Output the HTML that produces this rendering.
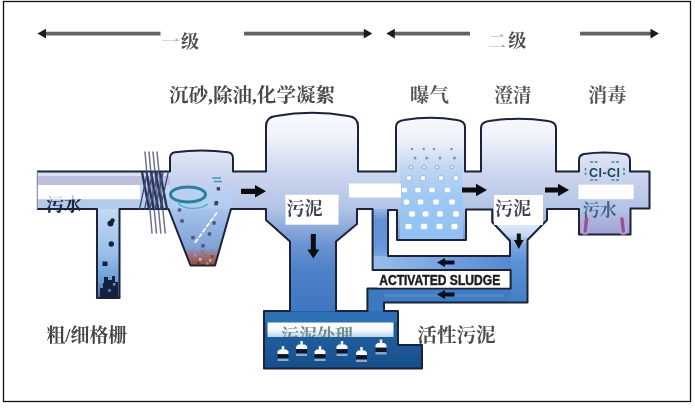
<!DOCTYPE html>
<html lang="zh">
<head>
<meta charset="utf-8">
<title>污水处理流程</title>
<style>
html,body{margin:0;padding:0;background:#fff;}
body{width:695px;height:409px;overflow:hidden;font-family:"Liberation Sans",sans-serif;}
svg{display:block;}
.ol{fill:none;stroke:#1b2238;stroke-width:2;stroke-linejoin:round;}
.cj{font-family:"Liberation Serif","Noto Serif CJK SC",serif;font-weight:bold;}
</style>
</head>
<body>
<svg width="695" height="409" viewBox="0 0 695 409">
<defs>
<filter id="soft" x="0" y="0" width="695" height="409" filterUnits="userSpaceOnUse"><feGaussianBlur stdDeviation="0.45"/></filter>
<linearGradient id="vg" gradientUnits="userSpaceOnUse" x1="0" y1="112" x2="0" y2="312">
<stop offset="0" stop-color="#fbfbfe"/>
<stop offset="0.14" stop-color="#eef0fa"/>
<stop offset="0.30" stop-color="#ced7ef"/>
<stop offset="0.485" stop-color="#b1c3e6"/>
<stop offset="0.565" stop-color="#93aedd"/>
<stop offset="0.665" stop-color="#6b93d2"/>
<stop offset="0.79" stop-color="#4e81c7"/>
<stop offset="1" stop-color="#3f76c0"/>
</linearGradient>
<linearGradient id="boxg" x1="0" y1="0" x2="0" y2="1">
<stop offset="0" stop-color="#21629f"/>
<stop offset="0.6" stop-color="#1c5a98"/>
<stop offset="1" stop-color="#174e8a"/>
</linearGradient>
<linearGradient id="pipeg" gradientUnits="userSpaceOnUse" x1="0" y1="209" x2="0" y2="298">
<stop offset="0" stop-color="#c2daf4"/>
<stop offset="0.5" stop-color="#9abfe9"/>
<stop offset="0.8" stop-color="#6d9dd8"/>
<stop offset="1" stop-color="#4572b4"/>
</linearGradient>
<linearGradient id="bubg" gradientUnits="userSpaceOnUse" x1="0" y1="143" x2="0" y2="239">
<stop offset="0" stop-color="#dfe6f6" stop-opacity="0"/>
<stop offset="0.28" stop-color="#bcd4f2" stop-opacity="0.9"/>
<stop offset="0.55" stop-color="#9ecaf4"/>
<stop offset="1" stop-color="#8fc0f2"/>
</linearGradient>
<linearGradient id="uvg" gradientUnits="userSpaceOnUse" x1="0" y1="209" x2="0" y2="234">
<stop offset="0" stop-color="#b4c4e8"/>
<stop offset="1" stop-color="#a39fd4"/>
</linearGradient>
<linearGradient id="wbg" x1="0" y1="0" x2="0" y2="1">
<stop offset="0" stop-color="#ffffff"/>
<stop offset="0.55" stop-color="#f4f8fd"/>
<stop offset="1" stop-color="#b9d3ef"/>
</linearGradient>
<linearGradient id="rpv" gradientUnits="userSpaceOnUse" x1="0" y1="209" x2="0" y2="270">
<stop offset="0" stop-color="#9db6e2"/>
<stop offset="0.18" stop-color="#6291d6"/>
<stop offset="0.6" stop-color="#6496d8"/>
<stop offset="1" stop-color="#93b9e8"/>
</linearGradient>
<linearGradient id="rph" gradientUnits="userSpaceOnUse" x1="372" y1="0" x2="510" y2="0">
<stop offset="0" stop-color="#98bdea"/>
<stop offset="0.5" stop-color="#76a4e0"/>
<stop offset="1" stop-color="#5688d0"/>
</linearGradient>
<linearGradient id="vcg" gradientUnits="userSpaceOnUse" x1="0" y1="241" x2="0" y2="302">
<stop offset="0" stop-color="#86ade2"/>
<stop offset="0.35" stop-color="#5a92d6"/>
<stop offset="1" stop-color="#437fc7"/>
</linearGradient>
<linearGradient id="gcg" gradientUnits="userSpaceOnUse" x1="0" y1="184" x2="0" y2="209">
<stop offset="0" stop-color="#bcd3f1" stop-opacity="0"/>
<stop offset="0.4" stop-color="#b8d2f3" stop-opacity="0.85"/>
<stop offset="1" stop-color="#b0cdf1"/>
</linearGradient>
<linearGradient id="wdg" gradientUnits="userSpaceOnUse" x1="0" y1="222" x2="0" y2="244">
<stop offset="0" stop-color="#e4edf9"/>
<stop offset="0.6" stop-color="#c6d9f2"/>
<stop offset="1" stop-color="#8fb2e2" stop-opacity="0.6"/>
</linearGradient>
<linearGradient id="coneg" gradientUnits="userSpaceOnUse" x1="0" y1="209" x2="0" y2="266">
<stop offset="0" stop-color="#a8c3ea"/>
<stop offset="0.68" stop-color="#7fa2d6"/>
<stop offset="0.8" stop-color="#907a8e"/>
<stop offset="1" stop-color="#9a4632"/>
</linearGradient>
</defs>
<rect x="3.5" y="1.5" width="687" height="400" fill="#fff" stroke="#111" stroke-width="1.3"/>
<g filter="url(#soft)">
<path d="M37,171.5 H170 V158 Q170,153 175,152.2 Q201.5,149 228,152.2 Q233,153 233,158 V171.5 H266 V126 Q266,117 276,116 Q312,109.5 348,116 Q358,117 358,126 V171.5 H396 V127 Q396,121 404,120 Q430.5,115.5 457,120 Q465,121 465,127 V171.5 H481 V128 Q481,122 489,121 Q518.5,116.5 548,121 Q556,122 556,128 V171.5 H579 V160 Q579,155 584,154 Q604.5,151 625,154 Q630,155 630,160 V171.5 H649.5 V208.5 H630.5 V234.5 H579 V209 H547 V220 L527.5,240 V302.5 H384 V311 H398 V345 H422 V368.5 H264 V311 H290 V241.5 L266,220 V209 H231 L215,265.5 H190.5 L168.5,209 H119.5 V298 H97 V209 H37 Z M357,209 H372.6 V270 H510.6 V288.6 H367.4 V311 H336 V241.5 L357,224 Z M388,210 H397 V240 H466 V209.6 H492.2 V222 L510,241 V256 H388 Z" fill="url(#vg)" fill-rule="evenodd"/>
<rect x="37" y="172" width="133" height="5" fill="#dcdff0"/>
<rect x="37" y="176" width="133" height="9" fill="#bcc0de"/>
<rect x="37" y="185" width="103" height="14.5" fill="#ffffff"/>
<rect x="37" y="199.5" width="133" height="9.5" fill="#b4cae9"/>
<rect x="140" y="185" width="30" height="14.5" fill="#c9d6ee"/>
<rect x="171" y="184" width="61" height="25" fill="url(#gcg)"/>
<rect x="97" y="209" width="22.5" height="89" fill="url(#pipeg)"/>
<g fill="#12203c"><circle cx="110.5" cy="223.5" r="3"/><circle cx="112.5" cy="220.5" r="2.2"/><circle cx="111.3" cy="244" r="2.7"/><rect x="102.5" y="261.5" width="5" height="4.5"/><path d="M104,277 h4 v3 h4 v-4 h3 v6 h3 v15 h-18 v-9 h3 v-5 h1 z"/><rect x="100" y="284" width="3" height="3" fill="#5a88c0"/><rect x="108" y="289" width="3" height="3" fill="#4a78b0"/><rect x="113" y="283" width="2.5" height="2.5" fill="#6a98d0"/></g>
<path d="M168.5,209 H231 L215,265.5 H190.5 Z" fill="url(#coneg)"/>
<path d="M264,311 H398 V345 H422 V368.5 H264 Z" fill="url(#boxg)"/>
<rect x="264" y="312" width="134" height="10.5" fill="#2f6fb6"/>
<rect x="372.6" y="209" width="15.4" height="61" fill="url(#rpv)"/>
<rect x="372.6" y="256" width="138" height="14" fill="url(#rph)"/>
<rect x="367.4" y="288.6" width="143.2" height="14" fill="#3f7cc4"/>
<rect x="367.4" y="288.6" width="16.6" height="23" fill="#3c79c1"/>
<rect x="384" y="294" width="120" height="3" fill="#5b93d6" opacity="0.6"/>
<rect x="510.6" y="241" width="17" height="61.5" fill="url(#vcg)"/>
<rect x="400" y="143" width="63" height="96.5" fill="url(#bubg)"/>
<rect x="579" y="209" width="51.5" height="25.5" fill="url(#uvg)"/>
<path d="M493,222 H546 L527,240 V244 H511 V240 Z" fill="url(#wdg)"/>
<path class="ol" d="M37,171.5 H170 V158 Q170,153 175,152.2 Q201.5,149 228,152.2 Q233,153 233,158 V171.5 H266 V126 Q266,117 276,116 Q312,109.5 348,116 Q358,117 358,126 V171.5 H396 V127 Q396,121 404,120 Q430.5,115.5 457,120 Q465,121 465,127 V171.5 H481 V128 Q481,122 489,121 Q518.5,116.5 548,121 Q556,122 556,128 V171.5 H579 V160 Q579,155 584,154 Q604.5,151 625,154 Q630,155 630,160 V171.5 H649.5 V208.5 H630.5 V234.5 H579 V209 H547 V220 L527.5,240 V302.5 H384 V311 H398 V345 H422 V368.5 H264 V311 H290 V241.5 L266,220 V209 H231 L215,265.5 H190.5 L168.5,209 H119.5 V298 H97 V209 H37"/>
<path d="M37.3,171.5 V209" stroke="#7f8698" stroke-width="1.1" fill="none"/>
<path class="ol" d="M357,209 H372.6 V270 H510.6 V288.6 H367.4 V311 H336 V241.5 L357,224 Z"/>
<path class="ol" d="M388,210 H397 V240 H466 V209.6 H492.2 V222 L510,241 V256 H388 Z"/>
<rect x="349" y="183.5" width="52" height="14" fill="#fff"/>
<rect x="285.5" y="194.7" width="53" height="30" fill="#fff"/>
<rect x="494" y="195" width="49" height="30" fill="#fff"/>
<rect x="578.4" y="184.6" width="55.2" height="14.6" fill="#fff"/>
<rect x="377.5" y="272" width="131.5" height="15.5" fill="#fff"/>
<rect x="267.5" y="322.5" width="126" height="14.5" fill="url(#wbg)"/>
<g fill="none" stroke-linecap="round"><path d="M145,152 L152,233" stroke="#6a728e" stroke-width="1.5"/><path d="M149,152 L156.4,233" stroke="#6a728e" stroke-width="1.5"/><path d="M153,152 L160.8,233" stroke="#6a728e" stroke-width="1.5"/><path d="M157,152 L165.2,233" stroke="#6a728e" stroke-width="1.5"/><path d="M142,172 L149,209" stroke="#26345c" stroke-width="2.3"/><path d="M146.5,172 L153.5,209" stroke="#26345c" stroke-width="2.3"/><path d="M151,172 L158,209" stroke="#26345c" stroke-width="2.3"/><path d="M155.5,172 L162.5,209" stroke="#26345c" stroke-width="2.3"/><path d="M160,172 L167,209" stroke="#26345c" stroke-width="2.3"/><path d="M139.5,209 L147.5,172" stroke="#3a4a78" stroke-width="1.3"/><path d="M144.7,209 L152.7,172" stroke="#3a4a78" stroke-width="1.3"/><path d="M149.9,209 L157.9,172" stroke="#3a4a78" stroke-width="1.3"/><path d="M155.1,209 L163.1,172" stroke="#3a4a78" stroke-width="1.3"/><path d="M160.3,209 L168.3,172" stroke="#3a4a78" stroke-width="1.3"/></g>
<ellipse cx="188" cy="194.5" rx="17.5" ry="7.5" fill="none" stroke="#2b819f" stroke-width="3"/>
<path d="M178,203 C184,210 200,210 208,204" fill="none" stroke="#4ab0d0" stroke-width="1.2"/>
<path d="M212,178 h9 M214,181.5 h8" stroke="#3a9ab8" stroke-width="1.4" fill="none"/>
<path d="M217,212.5 L194.5,243.5" stroke="#fff" stroke-width="1.8" stroke-dasharray="5 1.5" opacity="0.9"/>
<g><rect x="216.7" y="187.1" width="3.4" height="3.4" fill="#4a3a6a"/><rect x="214.8" y="201" width="3.4" height="3.4" fill="#3a4468"/><rect x="177.8" y="208.3" width="3.4" height="3.4" fill="#55608a"/><rect x="180.3" y="219.3" width="3.4" height="3.4" fill="#4a5578"/><rect x="212.3" y="221.3" width="3.4" height="3.4" fill="#4a5578"/><rect x="207.8" y="232.3" width="3.4" height="3.4" fill="#4a5a80"/><rect x="191.3" y="235.9" width="3.4" height="3.4" fill="#4a5a80"/><rect x="201.3" y="244.1" width="3.4" height="3.4" fill="#4a5a80"/><rect x="214.3" y="202" width="3.4" height="3.4" fill="#3a4468"/></g>
<g><rect x="194" y="254" width="2.6" height="2.6" fill="#c98a7a"/><rect x="199" y="258" width="2.6" height="2.6" fill="#e0b0a0"/><rect x="204" y="253" width="2.6" height="2.6" fill="#b06a5a"/><rect x="209" y="259" width="2.6" height="2.6" fill="#d8a090"/><rect x="197" y="262" width="2.6" height="2.6" fill="#7a3020"/><rect x="206" y="262" width="2.6" height="2.6" fill="#c87860"/><rect x="211" y="255" width="2.6" height="2.6" fill="#8a4030"/><rect x="201" y="250.5" width="2.6" height="2.6" fill="#a06a70"/></g>
<g><circle cx="412" cy="149" r="1.3" fill="#7f96c4" stroke="none" stroke-width="0.8"/><circle cx="423.7" cy="149" r="1.3" fill="#7f96c4" stroke="none" stroke-width="0.8"/><circle cx="434" cy="149" r="1.3" fill="#7f96c4" stroke="none" stroke-width="0.8"/><circle cx="451.6" cy="149" r="1.3" fill="#7f96c4" stroke="none" stroke-width="0.8"/><circle cx="415" cy="158" r="1.5" fill="#7f96c4" stroke="none" stroke-width="0.8"/><circle cx="426.7" cy="158" r="1.5" fill="#7f96c4" stroke="none" stroke-width="0.8"/><circle cx="440" cy="158" r="1.5" fill="#7f96c4" stroke="none" stroke-width="0.8"/><circle cx="454.5" cy="158" r="1.5" fill="#7f96c4" stroke="none" stroke-width="0.8"/><circle cx="411" cy="167" r="2" fill="#dfeaf9" stroke="#8aa2cc" stroke-width="0.8"/><circle cx="424" cy="167" r="2" fill="#dfeaf9" stroke="#8aa2cc" stroke-width="0.8"/><circle cx="437" cy="167" r="2" fill="#dfeaf9" stroke="#8aa2cc" stroke-width="0.8"/><circle cx="452" cy="167" r="2" fill="#dfeaf9" stroke="#8aa2cc" stroke-width="0.8"/><rect x="406.3" y="175.57" width="5.4" height="4.86" rx="1.485" fill="#f2f7fd" stroke="#9ab4dc" stroke-width="0.8"/><rect x="420.3" y="175.57" width="5.4" height="4.86" rx="1.485" fill="#f2f7fd" stroke="#9ab4dc" stroke-width="0.8"/><rect x="438.3" y="175.57" width="5.4" height="4.86" rx="1.485" fill="#f2f7fd" stroke="#9ab4dc" stroke-width="0.8"/><rect x="453.3" y="175.57" width="5.4" height="4.86" rx="1.485" fill="#f2f7fd" stroke="#9ab4dc" stroke-width="0.8"/><rect x="401.4" y="187.21" width="6.2" height="5.58" rx="1.705" fill="#ffffff" stroke="#a4c2ea" stroke-width="0.8"/><rect x="414.9" y="187.21" width="6.2" height="5.58" rx="1.705" fill="#ffffff" stroke="#a4c2ea" stroke-width="0.8"/><rect x="428.9" y="187.21" width="6.2" height="5.58" rx="1.705" fill="#ffffff" stroke="#a4c2ea" stroke-width="0.8"/><rect x="444.4" y="187.21" width="6.2" height="5.58" rx="1.705" fill="#ffffff" stroke="#a4c2ea" stroke-width="0.8"/><rect x="403.3" y="199.12" width="6.4" height="5.76" rx="1.76" fill="#ffffff" stroke="#a4c2ea" stroke-width="0.8"/><rect x="417.3" y="199.12" width="6.4" height="5.76" rx="1.76" fill="#ffffff" stroke="#a4c2ea" stroke-width="0.8"/><rect x="432.8" y="199.12" width="6.4" height="5.76" rx="1.76" fill="#ffffff" stroke="#a4c2ea" stroke-width="0.8"/><rect x="448.8" y="199.12" width="6.4" height="5.76" rx="1.76" fill="#ffffff" stroke="#a4c2ea" stroke-width="0.8"/><rect x="408.7" y="211.03" width="6.6" height="5.94" rx="1.815" fill="#ffffff" stroke="#a4c2ea" stroke-width="0.8"/><rect x="422.2" y="211.03" width="6.6" height="5.94" rx="1.815" fill="#ffffff" stroke="#a4c2ea" stroke-width="0.8"/><rect x="436.7" y="211.03" width="6.6" height="5.94" rx="1.815" fill="#ffffff" stroke="#a4c2ea" stroke-width="0.8"/><rect x="452.7" y="211.03" width="6.6" height="5.94" rx="1.815" fill="#ffffff" stroke="#a4c2ea" stroke-width="0.8"/><rect x="405.1" y="223.44" width="6.8" height="6.12" rx="1.87" fill="#ffffff" stroke="#a4c2ea" stroke-width="0.8"/><rect x="420.6" y="223.44" width="6.8" height="6.12" rx="1.87" fill="#ffffff" stroke="#a4c2ea" stroke-width="0.8"/><rect x="436.1" y="223.44" width="6.8" height="6.12" rx="1.87" fill="#ffffff" stroke="#a4c2ea" stroke-width="0.8"/><rect x="451.1" y="223.44" width="6.8" height="6.12" rx="1.87" fill="#ffffff" stroke="#a4c2ea" stroke-width="0.8"/></g>
<text x="589" y="176.6" font-family="Liberation Sans, sans-serif" font-weight="bold" font-size="12.5" fill="#1c4556" textLength="31" lengthAdjust="spacing">Cl-Cl</text>
<g stroke="#3a8a8a" stroke-width="1.5" fill="none"><path d="M590,162 h3 M594.5,162 h3 M611.5,162 h3 M616,162 h3 M590,180 h3 M594.5,180 h3 M611.5,180 h3 M616,180 h3"/><path d="M585.5,168 v2.5 M585.5,172.5 v2.5 M624,168 v2.5 M624,172.5 v2.5"/></g>
<g fill="none" stroke-linecap="round"><path d="M586.5,219 L585,231" stroke="#c6a6d6" stroke-width="8" opacity="0.7"/><path d="M586.5,219 L585.2,231" stroke="#89589c" stroke-width="3.4"/><path d="M622,219 L623.5,231" stroke="#c6a6d6" stroke-width="8" opacity="0.7"/><path d="M622,219 L623.3,231" stroke="#89589c" stroke-width="3.4"/></g>
<g><rect x="281.7" y="346" width="2.6" height="4.5" fill="#e8f0fa"/><path d="M279.5,349.6 h7 l2,2 v2.6 h-11 v-2.6 z" fill="#f4f8fd"/><rect x="277.5" y="354.2" width="11" height="4.4" fill="#0c1220"/><rect x="277.5" y="358.6" width="11" height="2.4" fill="#8fa9cc"/><rect x="300.3" y="341" width="2.6" height="4.5" fill="#e8f0fa"/><path d="M298.1,344.6 h7 l2,2 v2.6 h-11 v-2.6 z" fill="#f4f8fd"/><rect x="296.1" y="349.2" width="11" height="4.4" fill="#0c1220"/><rect x="296.1" y="353.6" width="11" height="2.4" fill="#8fa9cc"/><rect x="318.7" y="346" width="2.6" height="4.5" fill="#e8f0fa"/><path d="M316.5,349.6 h7 l2,2 v2.6 h-11 v-2.6 z" fill="#f4f8fd"/><rect x="314.5" y="354.2" width="11" height="4.4" fill="#0c1220"/><rect x="314.5" y="358.6" width="11" height="2.4" fill="#8fa9cc"/><rect x="340.7" y="341" width="2.6" height="4.5" fill="#e8f0fa"/><path d="M338.5,344.6 h7 l2,2 v2.6 h-11 v-2.6 z" fill="#f4f8fd"/><rect x="336.5" y="349.2" width="11" height="4.4" fill="#0c1220"/><rect x="336.5" y="353.6" width="11" height="2.4" fill="#8fa9cc"/><rect x="360.2" y="347" width="2.6" height="4.5" fill="#e8f0fa"/><path d="M358,350.6 h7 l2,2 v2.6 h-11 v-2.6 z" fill="#f4f8fd"/><rect x="356" y="355.2" width="11" height="4.4" fill="#0c1220"/><rect x="356" y="359.6" width="11" height="2.4" fill="#8fa9cc"/><rect x="379.7" y="339.5" width="2.6" height="4.5" fill="#e8f0fa"/><path d="M377.5,343.1 h7 l2,2 v2.6 h-11 v-2.6 z" fill="#f4f8fd"/><rect x="375.5" y="347.7" width="11" height="4.4" fill="#0c1220"/><rect x="375.5" y="352.1" width="11" height="2.4" fill="#8fa9cc"/></g>
<rect x="43.5" y="31.7" width="117" height="3.8" fill="#646464"/><path d="M37.5,33.6 L46,28.8 L46,38.4 Z" fill="#1a1a1a"/>
<rect x="244" y="31.7" width="122.3" height="3.8" fill="#646464"/><path d="M372.3,33.6 L363.8,28.8 L363.8,38.4 Z" fill="#1a1a1a"/>
<rect x="392.3" y="31.7" width="77.7" height="3.8" fill="#646464"/><path d="M386.3,33.6 L394.8,28.8 L394.8,38.4 Z" fill="#1a1a1a"/>
<rect x="580" y="31.7" width="73" height="3.8" fill="#646464"/><path d="M659,33.6 L650.5,28.8 L650.5,38.4 Z" fill="#1a1a1a"/>
<path d="M241,188.7 H255 V185 L266,191.3 L255,197.6 V193.9 H241 Z" fill="#0a0a10"/>
<path d="M462,187.4 H476 V183.7 L487,190 L476,196.3 V192.6 H462 Z" fill="#0a0a10"/>
<path d="M545,187.4 H558 V183.7 L569,190 L558,196.3 V192.6 H545 Z" fill="#0a0a10"/>
<path d="M310.8,234 V249.5 H307.3 L313.3,258.5 L319.3,249.5 H315.8 V234 Z" fill="#0a0a10"/>
<path d="M516.8,233.5 V240 H514 L518.8,249 L523.6,240 H520.8 V233.5 Z" fill="#0a0a10"/>
<path d="M454.5,260.5 H445 V257.9 L437,262.5 L445,267.1 V264.5 H454.5 Z" fill="#0a0a20"/>
<path d="M454.5,292.5 H445 V289.9 L437,294.5 L445,299.1 V296.5 H454.5 Z" fill="#0a0a20"/>
<text x="379.2" y="284.7" stroke="#1c1c1c" stroke-width="0.45" font-family="Liberation Sans, sans-serif" font-weight="bold" font-size="14" fill="#1c1c1c" textLength="121" lengthAdjust="spacingAndGlyphs">ACTIVATED SLUDGE</text>
<text class="cj" x="161.5" y="47.5" font-size="18" fill="#777" opacity="0.55">一</text>
<text class="cj" x="180.94" y="47.5" font-size="18" fill="#4c4c4c">级</text>
<text class="cj" x="488" y="47.5" font-size="18" fill="#777" opacity="0.6">二</text>
<text class="cj" x="508.2" y="47.2" font-size="18" fill="#4c4c4c">级</text>
<text class="cj" x="169" y="101.5" font-size="19" fill="#484848" textLength="166" lengthAdjust="spacingAndGlyphs">沉砂,除油,化学凝絮</text>
<text class="cj" x="410" y="101.5" font-size="19" fill="#555" textLength="38.8" lengthAdjust="spacingAndGlyphs">曝气</text>
<text class="cj" x="494.5" y="101.5" font-size="19" fill="#555" textLength="37" lengthAdjust="spacingAndGlyphs">澄清</text>
<text class="cj" x="588" y="101.5" font-size="19" fill="#555" textLength="38.4" lengthAdjust="spacingAndGlyphs">消毒</text>
<clipPath id="cpw"><rect x="30" y="199.5" width="80" height="20"/></clipPath>
<text class="cj" x="46" y="211" font-size="18" fill="#2a3550" opacity="0.25">污水</text>
<g clip-path="url(#cpw)"><text class="cj" x="46" y="211" font-size="18" fill="#1c2540">污水</text></g>
<text class="cj" x="286.6" y="214.5" font-size="18" fill="#3a4258">污泥</text>
<text class="cj" x="495" y="214.5" font-size="18" fill="#3a4258">污泥</text>
<text class="cj" x="582.8" y="215.5" font-size="17" fill="#3d6485">污水</text>
<text class="cj" x="46.4" y="342" font-size="18.8" fill="#444" textLength="80.8" lengthAdjust="spacingAndGlyphs">粗/细格栅</text>
<clipPath id="cpb"><rect x="270" y="322" width="124" height="15"/></clipPath>
<g clip-path="url(#cpb)"><text class="cj" x="281" y="341.5" font-size="18" fill="#6d8a90">污泥处理</text></g>
<text class="cj" x="417.3" y="342" font-size="19.6" fill="#4a4a4a" textLength="78.4" lengthAdjust="spacingAndGlyphs">活性污泥</text>
</g>
</svg>
</body>
</html>
